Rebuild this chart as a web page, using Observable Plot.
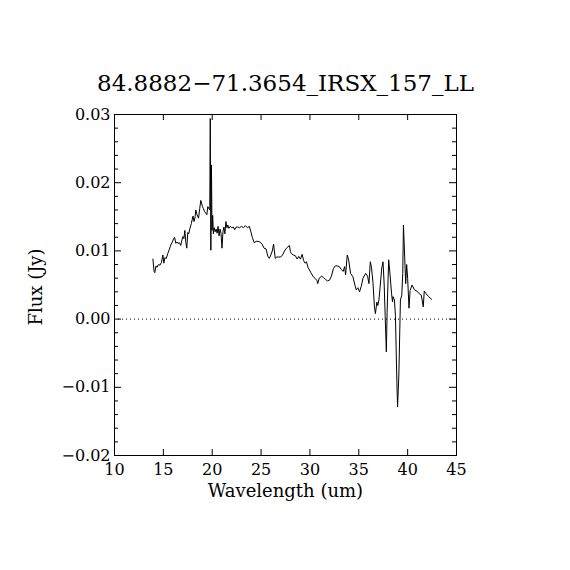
<!DOCTYPE html>
<html>
<head>
<meta charset="utf-8">
<script src="https://cdn.jsdelivr.net/npm/d3@7"></script>
<script src="https://cdn.jsdelivr.net/npm/@observablehq/plot@0.6"></script>
<style>
  html, body { margin: 0; padding: 0; background: #fff; }
</style>
</head>
<body>
<div id="chart"></div>
<script>
const title = "84.8882\u221271.3654_IRSX_157_LL";
const xLabel = "Wavelength (um)";
const yLabel = "Flux (Jy)";

const wavelength = [
  13.93, 14.05, 14.12, 14.25, 14.35, 14.5, 14.65, 14.8, 14.95, 15.05,
  15.15, 15.3, 15.45, 15.58, 15.7, 15.8, 15.93, 16.05, 16.15, 16.28,
  16.4, 16.5, 16.65, 16.78, 16.9, 17.0, 17.1, 17.2, 17.3, 17.4,
  17.5, 17.6, 17.7, 17.86, 18.03, 18.14, 18.25, 18.32, 18.45, 18.6,
  18.72, 18.83, 19.0, 19.1, 19.2, 19.35, 19.45, 19.55, 19.65, 19.75,
  19.8, 19.86, 19.92, 19.98, 20.05, 20.12, 20.2, 20.3, 20.4, 20.5,
  20.6, 20.7, 20.8, 20.9, 21.0, 21.1, 21.2, 21.3, 21.4, 21.5,
  21.6, 21.7, 21.85, 22.0, 22.15, 22.3, 22.45, 22.6, 22.8, 23.0,
  23.2, 23.4, 23.6, 23.8, 23.96, 24.1, 24.3, 24.5, 24.7, 24.9,
  25.1, 25.3, 25.5, 25.7, 25.84, 26.0, 26.15, 26.28, 26.45, 26.6,
  26.8, 27.0, 27.2, 27.4, 27.6, 27.9, 28.0, 28.1, 28.3, 28.5,
  28.7, 28.85, 29.03, 29.2, 29.35, 29.5, 29.65, 29.8, 29.95, 30.1,
  30.3, 30.5, 30.7, 30.8, 30.95, 31.2, 31.4, 31.6, 31.8, 32.0,
  32.2, 32.4, 32.6, 32.8, 33.0, 33.2, 33.4, 33.55, 33.65, 33.82,
  33.96, 34.16, 34.4, 34.6, 34.74, 34.9, 35.08, 35.25, 35.43, 35.7,
  35.9, 36.04, 36.18, 36.3, 36.45, 36.6, 36.7, 36.85, 36.95, 37.06,
  37.2, 37.35, 37.48, 37.6, 37.7, 37.82, 37.9, 38.0, 38.06, 38.2,
  38.35, 38.45, 38.5, 38.65, 38.75, 38.9, 38.97, 39.1, 39.26, 39.4,
  39.5, 39.57, 39.7, 39.8, 39.9, 40.0, 40.14, 40.25, 40.45, 40.7,
  40.95, 41.2, 41.4, 41.6, 41.7, 41.9, 42.15, 42.45
];
const flux = [
  0.0088, 0.0070, 0.0068, 0.0078, 0.0076, 0.0080, 0.0079, 0.0083, 0.0094, 0.0082,
  0.0090, 0.0089, 0.0096, 0.0101, 0.0106, 0.0110, 0.0113, 0.0118, 0.0120, 0.0111,
  0.0113, 0.0111, 0.0112, 0.0108, 0.0116, 0.0121, 0.0118, 0.0130, 0.0112, 0.0104,
  0.0127, 0.0125, 0.0132, 0.0140, 0.0151, 0.0143, 0.0150, 0.0160, 0.0153, 0.0148,
  0.0162, 0.0174, 0.0165, 0.0162, 0.0158, 0.0155, 0.0153, 0.0165, 0.0162, 0.0160,
  0.0294, 0.0101, 0.0226, 0.0130, 0.0152, 0.0125, 0.0134, 0.0128, 0.0132, 0.0126,
  0.0136, 0.0122, 0.0132, 0.0126, 0.0104, 0.0128, 0.0135, 0.0125, 0.0143, 0.0134,
  0.0138, 0.0133, 0.0136, 0.0134, 0.0135, 0.0131, 0.0135, 0.0135, 0.0134, 0.0136,
  0.0134, 0.0137, 0.0134, 0.0136, 0.0128, 0.0120, 0.0112, 0.0114, 0.0114, 0.0113,
  0.0110, 0.0104, 0.0103, 0.0092, 0.0089, 0.0094, 0.0100, 0.0110, 0.0089, 0.0091,
  0.0091, 0.0091, 0.0094, 0.0100, 0.0104, 0.0108, 0.0099, 0.0096, 0.0094, 0.0093,
  0.0088, 0.0092, 0.0088, 0.0095, 0.0086, 0.0082, 0.0084, 0.0076, 0.0072, 0.0068,
  0.0063, 0.0060, 0.0057, 0.0052, 0.0060, 0.0063, 0.0061, 0.0058, 0.0056, 0.0057,
  0.0063, 0.0074, 0.0078, 0.0078, 0.0077, 0.0073, 0.0070, 0.0077, 0.0065, 0.0094,
  0.0087, 0.0067, 0.0062, 0.0050, 0.0043, 0.0046, 0.0040, 0.0048, 0.0060, 0.0067,
  0.0063, 0.0052, 0.0084, 0.0076, 0.0054, 0.0018, 0.0008, 0.0025, 0.0020, 0.0028,
  0.0050, 0.0075, 0.0084, 0.0050, 0.0005, -0.0048, 0.0010, 0.0060, 0.0087, 0.0065,
  0.0038, 0.0025, 0.0033, 0.0028, 0.0005, -0.0094, -0.0129, -0.0082, 0.0028, 0.0035,
  0.0067, 0.0138, 0.0090, 0.0052, 0.0080, 0.0060, 0.0016, 0.0042, 0.0050, 0.0043,
  0.0041, 0.0037, 0.0035, 0.0018, 0.0041, 0.0037, 0.0033, 0.0029
];

const xDomain = [10, 45];
const yDomain = [-0.02, 0.03];
const xTicks = [10, 15, 20, 25, 30, 35, 40, 45];
const xInnerTicks = [15, 20, 25, 30, 35, 40];
const yTicks = [-0.02, -0.01, 0.00, 0.01, 0.02, 0.03];
const yMinorTicks = [
  -0.018, -0.016, -0.014, -0.012, -0.008, -0.006, -0.004, -0.002,
  0.002, 0.004, 0.006, 0.008, 0.012, 0.014, 0.016, 0.018,
  0.022, 0.024, 0.026, 0.028
];

const spectrum = wavelength.map((w, i) => ({w, f: flux[i]}));

const W = 570, H = 570;
const mL = 114, mR = 114, mT = 114, mB = 115;
const innerW = W - mL - mR;
const innerH = H - mT - mB;
const font = "'DejaVu Serif', 'Liberation Serif', serif";

const chart = Plot.plot({
  width: W,
  height: H,
  marginLeft: mL,
  marginRight: mR,
  marginTop: mT,
  marginBottom: mB,
  style: {fontFamily: font, fontSize: "16px", background: "#fff", color: "#000"},
  x: {domain: xDomain},
  y: {domain: yDomain},
  marks: [
    Plot.ruleY([0], {stroke: "#000", strokeWidth: 1, strokeDasharray: "1,3"}),
    Plot.line(spectrum, {x: "w", y: "f", stroke: "#000", strokeWidth: 1}),
    Plot.frame({stroke: "#000", strokeWidth: 1}),
    // inward ticks
    Plot.tickX(xInnerTicks, {x: d => d, insetTop: innerH - 6, stroke: "#000"}),
    Plot.tickX(xInnerTicks, {x: d => d, insetBottom: innerH - 6, stroke: "#000"}),
    Plot.tickY(yTicks, {y: d => d, insetRight: innerW - 7, stroke: "#000"}),
    Plot.tickY(yTicks, {y: d => d, insetLeft: innerW - 7, stroke: "#000"}),
    Plot.tickY(yMinorTicks, {y: d => d, insetRight: innerW - 4, stroke: "#000"}),
    Plot.tickY(yMinorTicks, {y: d => d, insetLeft: innerW - 4, stroke: "#000"}),
    Plot.axisX({ticks: xTicks, tickSize: 0, tickPadding: 8, label: null, fontSize: 16, tickFormat: d3.format("d")}),
    Plot.axisY({ticks: yTicks, tickSize: 0, tickPadding: 4, label: null, fontSize: 16, tickFormat: d3.format(".2f")}),
    Plot.text([title], {text: d => d, frameAnchor: "top", dy: -24, fontSize: 23, textAnchor: "middle", lineAnchor: "bottom", fill: "#000"}),
    Plot.text([xLabel], {text: d => d, frameAnchor: "bottom", dy: 41, fontSize: 18, textAnchor: "middle", lineAnchor: "bottom", fill: "#000"}),
    Plot.text([yLabel], {text: d => d, frameAnchor: "left", dx: -78, dy: 2, rotate: -90, fontSize: 18, textAnchor: "middle", fill: "#000"})
  ]
});

document.getElementById("chart").appendChild(chart);
</script>
</body>
</html>
